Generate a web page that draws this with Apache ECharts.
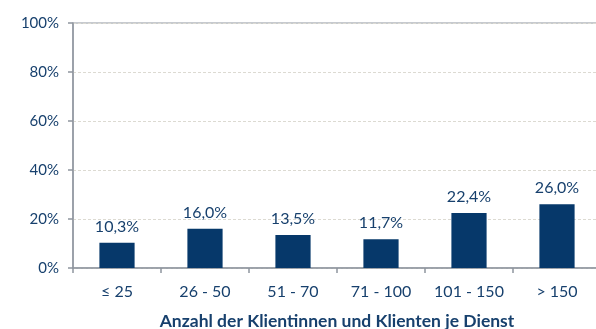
<!DOCTYPE html>
<html>
<head>
<meta charset="utf-8">
<script src="https://cdn.jsdelivr.net/npm/echarts@6/dist/echarts.min.js"></script>
<style>
  html, body { margin: 0; padding: 0; background: #fff; }
  #chart { width: 596px; height: 329px; }
</style>
</head>
<body>
<div id="chart"></div>
<script>
// Anteil der Dienste nach Anzahl betreuter Personen
const categories = ['≤ 25', '26 - 50', '51 - 70', '71 - 100', '101 - 150', '> 150'];
const shares = [10.3, 16.0, 13.5, 11.7, 22.4, 26.0];
const yTicks = [0, 20, 40, 60, 80, 100];
const axisTitle = 'Anzahl der Klientinnen und Klienten je Dienst';

const textColor = '#17406D';
const barColor = '#06386A';
const axisGray = '#8E959E';
const font = 'Lato';

const chart = echarts.init(document.getElementById('chart'), null, { renderer: 'canvas' });
chart.setOption({
  animation: false,
  grid: {
    left: 73, top: 23, right: -5, bottom: 61,
    outerBoundsMode: 'none',
    containLabel: false,
    show: true, borderColor: axisGray, borderWidth: 1, backgroundColor: 'transparent'
  },
  xAxis: {
    type: 'category',
    data: categories,
    boundaryGap: true,
    axisLine: { lineStyle: { color: axisGray, width: 1.5 } },
    axisTick: { show: true, length: 5, lineStyle: { color: axisGray, width: 1.5 } },
    axisLabel: { color: textColor, fontFamily: font, fontSize: 16, margin: 16, interval: 0, hideOverlap: false },
    name: axisTitle,
    nameLocation: 'middle',
    nameGap: 44,
    nameTextStyle: { color: textColor, fontFamily: font, fontSize: 17.5, fontWeight: 'bold' }
  },
  yAxis: {
    type: 'value',
    min: yTicks[0],
    max: yTicks[yTicks.length - 1],
    interval: yTicks[1] - yTicks[0],
    axisLine: { show: true, lineStyle: { color: axisGray, width: 1.5 } },
    axisTick: { show: true, length: 5, lineStyle: { color: axisGray, width: 1.5 } },
    axisLabel: {
      color: textColor, fontFamily: font, fontSize: 15, margin: 14,
      formatter: v => v + '%'
    },
    splitLine: { show: true, lineStyle: { color: '#DCDAD2', type: [3, 2], width: 1 } }
  },
  series: [{
    type: 'bar',
    data: shares,
    barWidth: '40%',
    itemStyle: { color: barColor },
    label: {
      show: true,
      position: 'top',
      distance: 8,
      color: textColor,
      fontFamily: font,
      fontSize: 16,
      formatter: p => p.value.toFixed(1).replace('.', ',') + '%'
    }
  }]
});
</script>
</body>
</html>
